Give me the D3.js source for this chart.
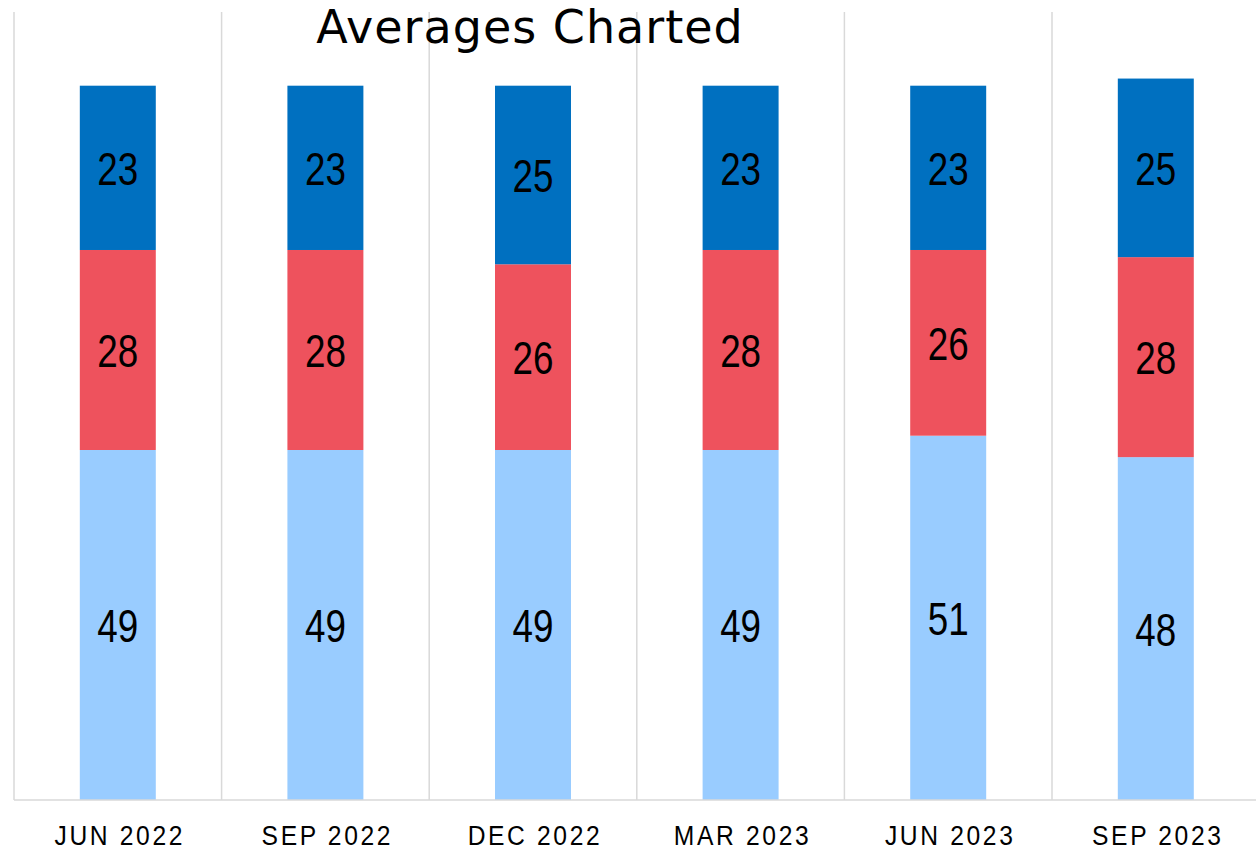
<!DOCTYPE html>
<html>
<head>
<meta charset="utf-8">
<script src="https://cdn.jsdelivr.net/npm/d3@7"></script>
<style>
	body { margin: 0; background: #fff; }
</style>
</head>
<body>
<div id="chart"></div>
<script>
// chart data
var categories = ["JUN 2022", "SEP 2022", "DEC 2022", "MAR 2023", "JUN 2023", "SEP 2023"];
var seriesNames = ["bottom", "middle", "top"];
var bottomValues = [49, 49, 49, 49, 51, 48];
var middleValues = [28, 28, 26, 28, 26, 28];
var topValues = [23, 23, 25, 23, 23, 25];
var seriesColors = ["#99CCFF", "#EE525D", "#0070C0"];
var titleText = "Averages Charted";

var w = 1256,
	h = 850,
	left = 14,
	baseline = 800,
	gridTop = 12,
	step = 207.6;

var svg = d3.select("#chart")
	.append("svg")
	.attr("width", w)
	.attr("height", h);

var rows = categories.map(function(c, i) {
	return { cat: c, bottom: bottomValues[i], middle: middleValues[i], top: topValues[i] };
});

var stacked = d3.stack().keys(seriesNames)(rows);

var x = d3.scaleBand()
	.domain(categories)
	.range([left, left + step * categories.length])
	.padding(0);

var barWidth = x.bandwidth() * 0.366;

var y = d3.scaleLinear()
	.domain([0, 100])
	.range([baseline, baseline - 714.3]);

// vertical category gridlines
svg.selectAll("line.grid")
	.data(categories)
	.enter().append("line")
	.attr("class", "grid")
	.attr("x1", function(d) { return x(d); })
	.attr("x2", function(d) { return x(d); })
	.attr("y1", gridTop)
	.attr("y2", baseline)
	.attr("stroke", "#d9d9d9")
	.attr("stroke-width", 1.5);

var layers = svg.selectAll("g.layer")
	.data(stacked)
	.enter().append("g")
	.attr("class", "layer")
	.attr("fill", function(d, i) { return seriesColors[i]; });

layers.selectAll("rect")
	.data(function(d) { return d; })
	.enter().append("rect")
	.attr("x", function(d) { return x(d.data.cat) + (x.bandwidth() - barWidth) / 2; })
	.attr("y", function(d) { return y(d[1]); })
	.attr("width", barWidth)
	.attr("height", function(d) { return y(d[0]) - y(d[1]); });

// value labels, squeezed to look like a narrow face
layers.selectAll("text")
	.data(function(d) { return d; })
	.enter().append("text")
	.attr("transform", function(d) {
		var cx = x(d.data.cat) + x.bandwidth() / 2,
			cy = (y(d[0]) + y(d[1])) / 2 + 17;
		return "translate(" + cx + "," + cy + ") scale(0.8,1)";
	})
	.attr("text-anchor", "middle")
	.attr("font-family", "'Liberation Sans', sans-serif")
	.attr("font-size", "46px")
	.attr("fill", "#000")
	.text(function(d) { return d[1] - d[0]; });

// baseline
svg.append("line")
	.attr("x1", left)
	.attr("x2", w)
	.attr("y1", baseline)
	.attr("y2", baseline)
	.attr("stroke", "#d9d9d9")
	.attr("stroke-width", 1.5);

// category labels
svg.selectAll("text.cat")
	.data(categories)
	.enter().append("text")
	.attr("class", "cat")
	.attr("transform", function(d) {
		return "translate(" + (x(d) + x.bandwidth() / 2 + 2) + ",845) scale(0.88,1)";
	})
	.attr("text-anchor", "middle")
	.attr("font-family", "'Liberation Sans', sans-serif")
	.attr("font-size", "28px")
	.attr("letter-spacing", "3px")
	.attr("fill", "#000")
	.text(function(d) { return d; });

// title
svg.append("text")
	.attr("x", 530)
	.attr("y", 43)
	.attr("text-anchor", "middle")
	.attr("font-family", "'DejaVu Sans', sans-serif")
	.attr("font-size", "46px")
	.attr("letter-spacing", "1px")
	.attr("fill", "#000")
	.text(titleText);
</script>
</body>
</html>
